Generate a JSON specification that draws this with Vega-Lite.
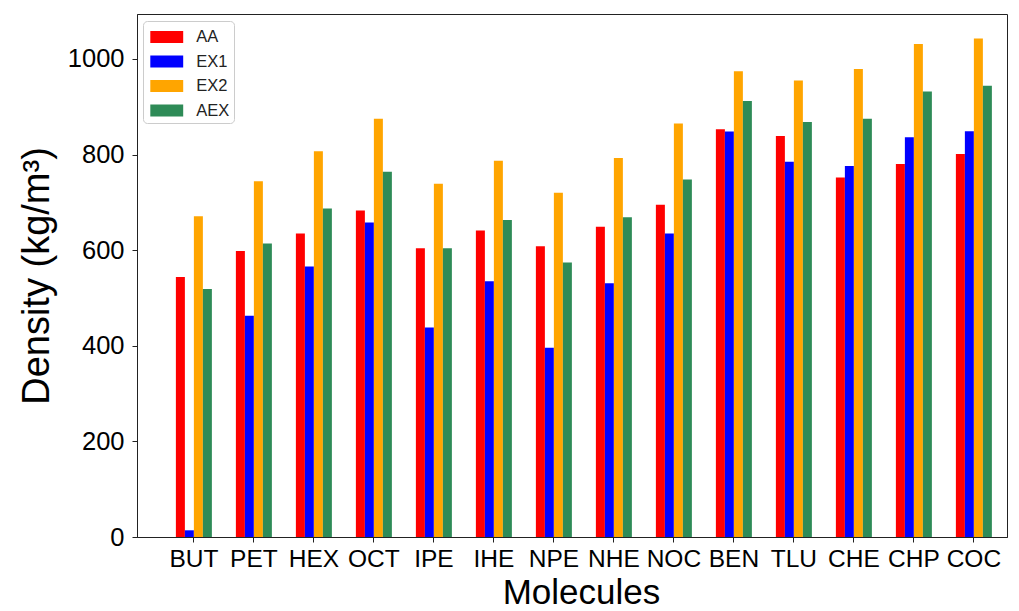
{
  "$schema": "https://vega.github.io/schema/vega-lite/v6.json",
  "width": 870,
  "height": 523,
  "autosize": {"type": "none"},
  "padding": {"left": 137, "top": 14, "right": 12, "bottom": 74},
  "background": "white",
  "data": {"values": [
    {"mol": "BUT", "series": "AA", "value": 544}, {"mol": "BUT", "series": "EX1", "value": 14}, {"mol": "BUT", "series": "EX2", "value": 671}, {"mol": "BUT", "series": "AEX", "value": 519},
    {"mol": "PET", "series": "AA", "value": 598}, {"mol": "PET", "series": "EX1", "value": 463}, {"mol": "PET", "series": "EX2", "value": 744}, {"mol": "PET", "series": "AEX", "value": 614},
    {"mol": "HEX", "series": "AA", "value": 635}, {"mol": "HEX", "series": "EX1", "value": 566}, {"mol": "HEX", "series": "EX2", "value": 807}, {"mol": "HEX", "series": "AEX", "value": 687},
    {"mol": "OCT", "series": "AA", "value": 683}, {"mol": "OCT", "series": "EX1", "value": 658}, {"mol": "OCT", "series": "EX2", "value": 875}, {"mol": "OCT", "series": "AEX", "value": 764},
    {"mol": "IPE", "series": "AA", "value": 604}, {"mol": "IPE", "series": "EX1", "value": 438}, {"mol": "IPE", "series": "EX2", "value": 739}, {"mol": "IPE", "series": "AEX", "value": 604},
    {"mol": "IHE", "series": "AA", "value": 641}, {"mol": "IHE", "series": "EX1", "value": 535}, {"mol": "IHE", "series": "EX2", "value": 787}, {"mol": "IHE", "series": "AEX", "value": 663},
    {"mol": "NPE", "series": "AA", "value": 608}, {"mol": "NPE", "series": "EX1", "value": 396}, {"mol": "NPE", "series": "EX2", "value": 720}, {"mol": "NPE", "series": "AEX", "value": 574},
    {"mol": "NHE", "series": "AA", "value": 649}, {"mol": "NHE", "series": "EX1", "value": 531}, {"mol": "NHE", "series": "EX2", "value": 793}, {"mol": "NHE", "series": "AEX", "value": 669},
    {"mol": "NOC", "series": "AA", "value": 695}, {"mol": "NOC", "series": "EX1", "value": 635}, {"mol": "NOC", "series": "EX2", "value": 865}, {"mol": "NOC", "series": "AEX", "value": 748},
    {"mol": "BEN", "series": "AA", "value": 853}, {"mol": "BEN", "series": "EX1", "value": 848}, {"mol": "BEN", "series": "EX2", "value": 974}, {"mol": "BEN", "series": "AEX", "value": 912},
    {"mol": "TLU", "series": "AA", "value": 839}, {"mol": "TLU", "series": "EX1", "value": 785}, {"mol": "TLU", "series": "EX2", "value": 955}, {"mol": "TLU", "series": "AEX", "value": 868},
    {"mol": "CHE", "series": "AA", "value": 752}, {"mol": "CHE", "series": "EX1", "value": 776}, {"mol": "CHE", "series": "EX2", "value": 979}, {"mol": "CHE", "series": "AEX", "value": 875},
    {"mol": "CHP", "series": "AA", "value": 780}, {"mol": "CHP", "series": "EX1", "value": 836}, {"mol": "CHP", "series": "EX2", "value": 1031}, {"mol": "CHP", "series": "AEX", "value": 932},
    {"mol": "COC", "series": "AA", "value": 801}, {"mol": "COC", "series": "EX1", "value": 849}, {"mol": "COC", "series": "EX2", "value": 1043}, {"mol": "COC", "series": "AEX", "value": 944}
  ]},
  "mark": {"type": "bar"},
  "encoding": {
    "x": {
      "field": "mol", "type": "nominal", "sort": null,
      "scale": {"paddingInner": 0.4, "paddingOuter": 0.45, "align": 0.72},
      "axis": {
        "title": "Molecules", "labelAngle": 0,
        "labelFont": "Liberation Sans", "labelFontSize": 24.5, "labelColor": "#000",
        "labelPadding": 5, "tickSize": 5, "tickColor": "#222", "domainColor": "#222",
        "titleFont": "Liberation Sans", "titleFontSize": 35, "titleFontWeight": "normal", "titleColor": "#000",
        "titleBaseline": "alphabetic", "titleY": 66, "titleX": 444, "titleAlign": "center", "titleAnchor": null
      }
    },
    "xOffset": {"field": "series", "type": "nominal", "sort": ["AA", "EX1", "EX2", "AEX"], "scale": {"paddingInner": 0, "paddingOuter": 0}},
    "y": {
      "field": "value", "type": "quantitative",
      "scale": {"domain": [0, 1094], "nice": false, "zero": true},
      "axis": {
        "title": "Density (kg/m³)", "values": [0, 200, 400, 600, 800, 1000], "format": "d", "grid": false,
        "labelFont": "Liberation Sans", "labelFontSize": 25.5, "labelColor": "#000",
        "labelPadding": 8, "tickSize": 5, "tickColor": "#222", "domainColor": "#222",
        "titleFont": "Liberation Sans", "titleFontSize": 38, "titleFontWeight": "normal", "titleColor": "#000",
        "titleBaseline": "alphabetic", "titleX": -89, "titleAngle": -90
      }
    },
    "color": {
      "field": "series", "type": "nominal", "sort": ["AA", "EX1", "EX2", "AEX"],
      "scale": {"domain": ["AA", "EX1", "EX2", "AEX"], "range": ["#ff0000", "#0000ff", "#ffa500", "#2e8b57"]},
      "legend": {
        "title": null, "orient": "none", "legendX": 6, "legendY": 7,
        "symbolType": "M-1.4,-0.51H1.4V0.51H-1.4Z", "symbolSize": 552, "symbolStrokeWidth": 0, "symbolOffset": 7.75,
        "labelFont": "Liberation Sans", "labelFontSize": 16.5, "labelColor": "#222",
        "labelOffset": 17.5, "rowPadding": 3.5, "padding": 4,
        "fillColor": "white", "strokeColor": "#cccccc", "cornerRadius": 4
      }
    }
  },
  "config": {"view": {"stroke": "#222", "strokeWidth": 1}}
}
